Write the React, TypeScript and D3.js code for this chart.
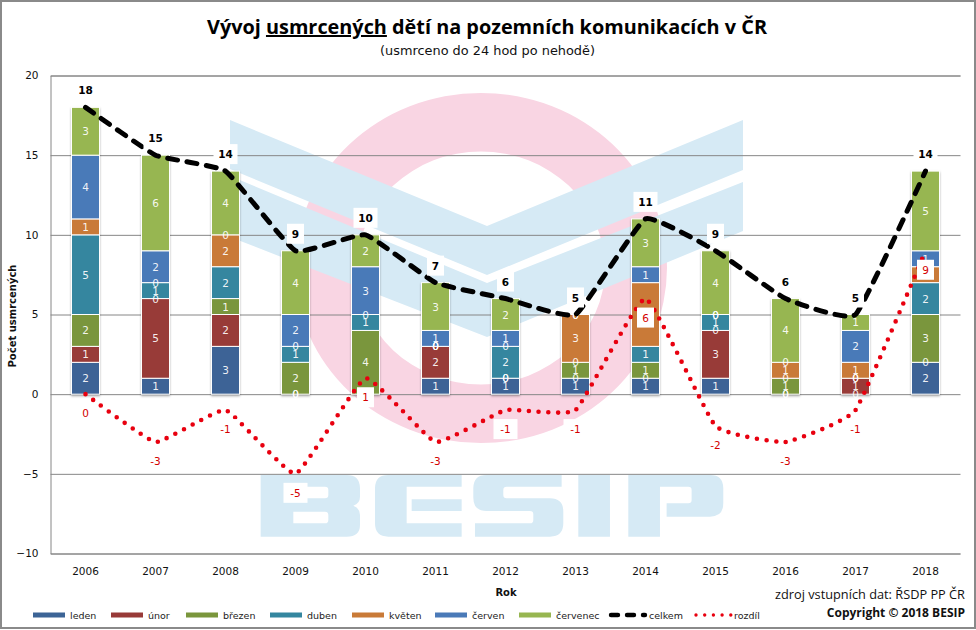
import React, { useRef, useEffect } from "react";
import * as d3 from "d3";

const years = ["2006", "2007", "2008", "2009", "2010", "2011", "2012", "2013", "2014", "2015", "2016", "2017", "2018"];
const months = ["leden", "únor", "březen", "duben", "květen", "červen", "červenec"];
const monthColors = ["#3c6496", "#983a38", "#7a963c", "#34869f", "#c97a37", "#4a7ab8", "#97b651"];

const leden = [2, 1, 3, 0, 0, 1, 1, 1, 1, 1, 0, 0, 2];
const unor = [1, 5, 2, 0, 0, 2, 0, 0, 0, 3, 0, 1, 0];
const brezen = [2, 0, 1, 2, 4, 0, 0, 1, 1, 0, 1, 0, 3];
const duben = [5, 1, 2, 1, 1, 0, 2, 0, 1, 1, 0, 0, 2];
const kveten = [1, 0, 2, 0, 0, 0, 0, 3, 4, 0, 1, 1, 1];
const cerven = [4, 2, 0, 2, 3, 1, 1, 0, 1, 0, 0, 2, 1];
const cervenec = [3, 6, 4, 4, 2, 3, 2, 0, 3, 4, 4, 1, 5];
const celkem = [18, 15, 14, 9, 10, 7, 6, 5, 11, 9, 6, 5, 14];
const rozdil = [0, -3, -1, -5, 1, -3, -1, -1, 6, -2, -3, -1, 9];

const monthValues = [leden, unor, brezen, duben, kveten, cerven, cervenec];
const yTicks = [-10, -5, 0, 5, 10, 15, 20];
const legendX = [33, 111, 186, 270, 352, 435, 519];

const font = "'DejaVu Sans', sans-serif";
const grid = "#868686";

// BESIP watermark, drawn in its own local coordinates
const besip = [
  "M62,105 H320 Q360,105 360,145 V170 Q360,190 340,197 Q360,205 360,225 V255 Q360,290 320,290 H62 Z M160,140 H255 Q265,140 265,150 V165 Q265,175 255,175 H160 Z M160,215 H255 Q265,215 265,225 V240 Q265,250 255,250 H160 Z",
  "M445,105 H665 V140 H500 V250 H665 V290 H445 Q405,290 405,250 V145 Q405,105 445,105 Z M515,178 H665 V213 H515 Z",
  "M740,105 H965 V140 H800 Q790,140 790,150 V165 Q790,175 800,175 H930 Q970,175 970,215 V250 Q970,290 930,290 H705 V250 H870 Q880,250 880,240 V223 Q880,213 870,213 H740 Q700,213 700,173 V145 Q700,105 740,105 Z",
  "M1015,105 H1110 V290 H1015 Z",
  "M1165,105 H1410 Q1450,105 1450,145 V190 Q1450,230 1410,230 H1280 V190 H1345 Q1355,190 1355,180 V150 Q1355,140 1345,140 H1260 V290 H1165 Z",
];

const App = () => {
  const ref = useRef<SVGSVGElement>(null);

  useEffect(() => {
    const svg = d3.select(ref.current);
    svg.selectAll("*").remove();

    const defs = svg.append("defs");
    defs.append("filter").attr("id", "shadow")
      .attr("x", "-20%").attr("y", "-5%").attr("width", "140%").attr("height", "115%")
      .append("feDropShadow")
      .attr("dx", 0).attr("dy", 1.5).attr("stdDeviation", 1)
      .attr("flood-color", "#000").attr("flood-opacity", 0.3);

    const x = d3.scaleBand().domain(years).range([50.5, 960.5]).paddingInner(0.6).paddingOuter(0.3);
    const y = d3.scaleLinear().domain([-10, 20]).range([553.5, 75.5]);
    const cx = (i: number) => (x(years[i]) as number) + x.bandwidth() / 2;

    // frame
    svg.append("rect").attr("x", 1).attr("y", 1).attr("width", 974).attr("height", 627)
      .attr("fill", "#fff").attr("stroke", "#8a8a8a").attr("stroke-width", 2);

    // watermark
    const mark = svg.append("g");
    mark.append("path")
      .attr("fill", "#f9d5e3").attr("fill-rule", "evenodd")
      .attr("d", "M295,268 A186,175 0 1 1 667,268 A186,175 0 1 1 295,268 Z M357,268 A124,116.5 0 1 0 605,268 A124,116.5 0 1 0 357,268 Z");
    mark.append("path").attr("fill", "#d6eaf5")
      .attr("d", "M230,120 L487,226 L743,120 V170 L487,275 L230,169 Z");
    mark.append("path").attr("fill", "#d6eaf5")
      .attr("d", "M230,176 L487,283 L743,182 V231 L487,337 L230,237 Z");
    mark.append("g").attr("transform", "translate(240,440) scale(0.3333)")
      .selectAll("path").data(besip).join("path")
      .attr("d", d => d).attr("fill", "#d6eaf5").attr("fill-rule", "evenodd");

    // y axis with gridlines
    const yAxis = d3.axisLeft(y).tickValues(yTicks).tickSize(-910).tickPadding(12);
    const ga = svg.append("g").attr("transform", "translate(50.5,0)").call(yAxis);
    ga.select(".domain").attr("stroke", grid).attr("stroke-width", 1);
    ga.selectAll(".tick line").attr("stroke", grid).attr("stroke-width", 1);
    ga.selectAll(".tick text").attr("font-family", font).attr("font-size", 10.5).attr("fill", "#111");

    // x labels
    svg.append("g").selectAll("text").data(years).join("text")
      .attr("x", (_, i) => cx(i)).attr("y", 575)
      .attr("text-anchor", "middle").attr("font-family", font).attr("font-size", 10.5).attr("fill", "#111")
      .text(d => d);

    // stacked bars
    const table = years.map((yr, i) => {
      const row: Record<string, number | string> = { year: yr };
      months.forEach((m, k) => { row[m] = monthValues[k][i]; });
      return row;
    });
    const series = d3.stack<any>().keys(months)(table);

    const bars = svg.append("g").attr("filter", "url(#shadow)");
    series.forEach((s, k) => {
      bars.append("g").selectAll("rect").data(s).join("rect")
        .attr("x", d => x(d.data.year) as number)
        .attr("width", x.bandwidth())
        .attr("y", d => y(d[1]))
        .attr("height", d => y(d[0]) - y(d[1]))
        .attr("fill", monthColors[k])
        .attr("stroke", "#fff").attr("stroke-width", 1);
    });
    series.forEach(s => {
      svg.append("g").selectAll("text").data(s).join("text")
        .attr("x", d => (x(d.data.year) as number) + x.bandwidth() / 2)
        .attr("y", d => y((d[0] + d[1]) / 2) + 4)
        .attr("text-anchor", "middle").attr("font-family", font).attr("font-size", 10.5)
        .attr("fill", "#fff").attr("fill-opacity", 0.92)
        .text(d => d[1] - d[0]);
    });

    // lines
    const line = d3.line<number>()
      .x((_, i) => cx(i))
      .y(d => y(d))
      .curve(d3.curveCardinal.tension(0.65));

    svg.append("path").datum(rozdil).attr("d", line).attr("fill", "none")
      .attr("stroke", "#e8000f").attr("stroke-width", 4.6)
      .attr("stroke-linecap", "round").attr("stroke-dasharray", "0 9.7");
    svg.append("path").datum(celkem).attr("d", line).attr("fill", "none")
      .attr("stroke", "#000").attr("stroke-width", 5)
      .attr("stroke-linecap", "round").attr("stroke-dasharray", "10 9.5");

    // value labels of the lines, on white boxes
    const addLabels = (values: number[], dy: number, color: string, weight: string) => {
      const g = svg.append("g").selectAll("g").data(values).join("g")
        .attr("transform", (d, i) => `translate(${cx(i)},${y(d) + dy})`);
      g.append("rect")
        .attr("x", d => (String(d).length > 1 ? -12 : -8.5))
        .attr("width", d => (String(d).length > 1 ? 24 : 17))
        .attr("y", -10).attr("height", 20).attr("fill", "#fff");
      g.append("text")
        .attr("y", 4).attr("text-anchor", "middle").attr("font-family", font)
        .attr("font-size", 10.5).attr("font-weight", weight).attr("fill", color)
        .text(d => d);
    };
    addLabels(celkem, -17, "#000", "bold");
    addLabels(rozdil, 19, "#d40000", "normal");

    // titles
    const title = svg.append("text").attr("x", 487).attr("y", 34).attr("text-anchor", "middle")
      .attr("font-family", "'Open Sans', sans-serif").attr("font-weight", "bold").attr("font-size", 20)
      .attr("textLength", 560).attr("lengthAdjust", "spacingAndGlyphs").attr("fill", "#000");
    title.append("tspan").text("Vývoj ");
    title.append("tspan").attr("text-decoration", "underline").text("usmrcených");
    title.append("tspan").text(" dětí na pozemních komunikacích v ČR");

    svg.append("text").attr("x", 487.5).attr("y", 55).attr("text-anchor", "middle")
      .attr("font-family", font).attr("font-size", 12).attr("textLength", 215)
      .attr("lengthAdjust", "spacingAndGlyphs").attr("fill", "#111")
      .text("(usmrceno do 24 hod po nehodě)");

    svg.append("text").attr("transform", "translate(16,316) rotate(-90)").attr("text-anchor", "middle")
      .attr("font-family", font).attr("font-size", 10).attr("font-weight", "bold").attr("fill", "#111")
      .text("Počet usmrcených");
    svg.append("text").attr("x", 506).attr("y", 596).attr("text-anchor", "middle")
      .attr("font-family", font).attr("font-size", 10).attr("font-weight", "bold").attr("fill", "#111")
      .text("Rok");

    // legend
    const legend = svg.append("g").selectAll("g").data(months).join("g")
      .attr("transform", (_, i) => `translate(${legendX[i]},615)`);
    legend.append("rect").attr("y", -2.5).attr("width", 32).attr("height", 5)
      .attr("fill", (_, i) => monthColors[i]);
    legend.append("text").attr("x", 37).attr("y", 3.5)
      .attr("font-family", font).attr("font-size", 9.5).attr("fill", "#222")
      .text(d => d);

    svg.append("path").attr("d", d3.line()([[611, 615], [645, 615]]))
      .attr("stroke", "#000").attr("stroke-width", 4.4).attr("stroke-linecap", "round")
      .attr("stroke-dasharray", "7 9");
    svg.append("text").attr("x", 649).attr("y", 618.5).attr("font-family", font)
      .attr("font-size", 9.5).attr("fill", "#222").text("celkem");
    svg.append("path").attr("d", d3.line()([[696, 615], [731, 615]]))
      .attr("stroke", "#e8000f").attr("stroke-width", 3.4).attr("stroke-linecap", "round")
      .attr("stroke-dasharray", "0 8.7");
    svg.append("text").attr("x", 734).attr("y", 618.5).attr("font-family", font)
      .attr("font-size", 9.5).attr("fill", "#222").text("rozdíl");

    // source notes
    svg.append("text").attr("x", 965).attr("y", 599).attr("text-anchor", "end")
      .attr("font-family", "'Open Sans', sans-serif").attr("font-size", 12.5)
      .attr("textLength", 190).attr("lengthAdjust", "spacingAndGlyphs").attr("fill", "#111")
      .text("zdroj vstupních dat: ŘSDP PP ČR");
    svg.append("text").attr("x", 965).attr("y", 617).attr("text-anchor", "end")
      .attr("font-family", "'Open Sans', sans-serif").attr("font-size", 12).attr("font-weight", "bold")
      .attr("fill", "#111")
      .text("Copyright © 2018 BESIP");
  }, []);

  return <svg ref={ref} width={976} height={630} style={{ position: "absolute", left: 0, top: 0 }} />;
};

export default App;
